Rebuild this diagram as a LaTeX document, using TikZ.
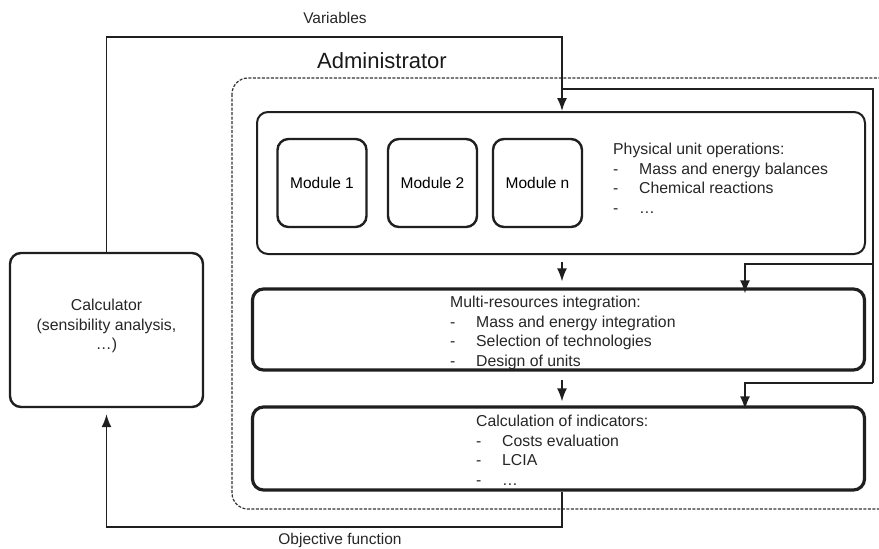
\documentclass[tikz,border=0pt]{standalone}
\usepackage{fontspec}
\setmainfont{Liberation Sans}
\usepackage{tikz}
\usetikzlibrary{arrows.meta, positioning}

\newcommand{\dashitem}[1]{\makebox[26pt][l]{-}#1}

\begin{document}
\begin{tikzpicture}[x=1pt, y=-1pt, >={Latex[length=13pt,width=10pt]}]
  \tikzstyle{box} = [draw=black!88, rounded corners=11pt, fill=white, rectangle, inner sep=0pt]
  \tikzstyle{module} = [box, line width=2.4pt, minimum width=89pt, minimum height=88pt, font={\fontsize{15.5}{19.5}\selectfont}]
  \tikzstyle{stage} = [box, line width=3.2pt, minimum width=612pt]
  \tikzstyle{listText} = [anchor=north west, align=left, inner sep=0pt, text=black!85, font={\fontsize{15.8}{19.5}\selectfont}]
  \tikzstyle{conn} = [draw=black!88, line width=1.6pt]
  \tikzstyle{flowLabel} = [text=black!85, font={\fontsize{15.5}{19}\selectfont}]

  \clip (0,0) rectangle (879,549);
  \useasboundingbox (0,0) rectangle (879,549);

  % administrator frame
  \draw[black!80, line width=1.2pt, dash pattern=on 3pt off 1.5pt, rounded corners=16pt] (232,78) rectangle (900,509);
  \node[text=black!90, font={\fontsize{22}{26}\selectfont}] (admin) at (382,61) {Administrator};

  % calculator
  \node[box, line width=2.4pt, minimum width=193pt, minimum height=154pt] (calc) at (106.5,330) {};
  \node[align=center, text=black!85, font={\fontsize{15.8}{19.5}\selectfont}] (calcText) at (106.5,326) {Calculator\\(sensibility analysis,\\\dots)};

  % physical unit operations
  \node[box, line width=2pt, minimum width=608pt, minimum height=142pt] (phys) at (561,183) {};
  \node[module] (m1) at (322,183) {Module 1};
  \node[module] (m2) at (432.5,183) {Module 2};
  \node[module] (mn) at (537.5,183) {Module n};
  \node[listText] (physText) at (613,143) {Physical unit operations:\\\dashitem{Mass and energy balances}\\\dashitem{Chemical reactions}\\\dashitem{\dots}};

  % integration and indicators
  \node[stage, minimum height=81pt] (multi) at (558.5,329.5) {};
  \node[listText] (multiText) at (450,296) {Multi-resources integration:\\\dashitem{Mass and energy integration}\\\dashitem{Selection of technologies}\\\dashitem{Design of units}};
  \node[stage, minimum height=83pt] (ind) at (558.5,448.5) {};
  \node[listText] (indText) at (476,415) {Calculation of indicators:\\\dashitem{Costs evaluation}\\\dashitem{LCIA}\\\dashitem{\dots}};

  % variables loop
  \coordinate (vtop) at (562,37);
  \coordinate (fb) at (873,89);
  \coordinate (b1) at (745,264);
  \coordinate (b2) at (745,383);
  \coordinate (obj) at (562,527);
  \node[flowLabel] (varLabel) at (335,18) {Variables};
  \node[flowLabel] (objLabel) at (340,540) {Objective function};

  \draw[conn, ->] (calc.north) |- (vtop) -- (vtop |- phys.north);
  \draw[conn] (vtop |- fb) -- (fb) -- (fb |- b2);
  \draw[conn, ->] (fb |- b1) -- (b1) -- ([yshift=-6pt]b1 |- multi.north);
  \draw[conn, ->] (fb |- b2) -- (b2) -- ([yshift=-4pt]b2 |- ind.north);
  \draw[conn, ->, shorten <=7pt, shorten >=6pt] (vtop |- phys.south) -- (vtop |- multi.north);
  \draw[conn, ->, shorten <=8pt, shorten >=4pt] (vtop |- multi.south) -- (vtop |- ind.north);
  \draw[conn, ->, shorten >=6pt] (vtop |- ind.south) -- (obj) -| (calc.south);
\end{tikzpicture}
\end{document}
